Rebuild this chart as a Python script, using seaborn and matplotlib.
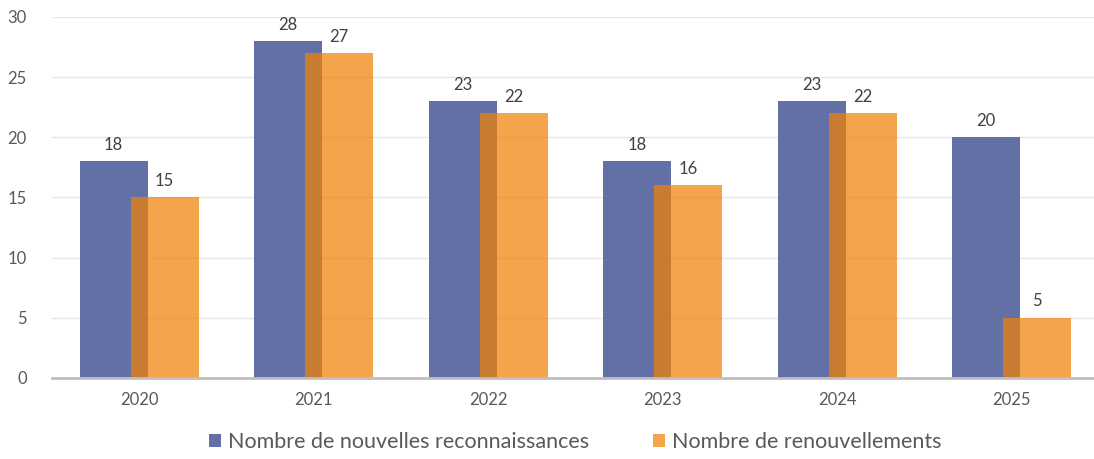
import numpy as np
import pandas as pd
import matplotlib
matplotlib.use("Agg")
import matplotlib.pyplot as plt
import seaborn as sns

years = ["2020", "2021", "2022", "2023", "2024", "2025"]
nouvelles = [18, 28, 23, 18, 23, 20]
renouvellements = [15, 27, 22, 16, 22, 5]
series_names = ["Nombre de nouvelles reconnaissances", "Nombre de renouvellements"]

sns.set_theme(style="white")
plt.rcParams["font.family"] = ["Lato", "DejaVu Sans"]

pos = np.arange(len(years))
df1 = pd.DataFrame({"x": pos - 0.146, "v": nouvelles})
df2 = pd.DataFrame({"x": pos + 0.146, "v": renouvellements})

fig = plt.figure(figsize=(10.94, 4.59), dpi=100)
ax = fig.add_axes([0.0474, 0.1765, 0.957, 0.7865])

ax.yaxis.grid(True, color="#e6e6e6", linewidth=1)
ax.set_axisbelow(True)

sns.barplot(data=df1, x="x", y="v", native_scale=True, width=0.39,
            color="#6270a5", saturation=1, linewidth=0, ax=ax, label=series_names[0])
sns.barplot(data=df2, x="x", y="v", native_scale=True, width=0.39,
            color="#f08206", alpha=0.72, saturation=1, linewidth=0, ax=ax,
            label=series_names[1])

for c in ax.containers:
    ax.bar_label(c, padding=6, fontsize=12, color="#404040")

ax.set_xlim(-0.5, 5.5)
ax.set_ylim(0, 30)
ax.set_yticks(range(0, 31, 5))
ax.set_xticks(pos)
ax.set_xticklabels(years)
ax.set_xlabel("")
ax.set_ylabel("")
ax.tick_params(axis="both", length=0, labelsize=12, labelcolor="#595959")
ax.tick_params(axis="x", pad=10)
ax.tick_params(axis="y", pad=18)

for s in ["top", "right", "left"]:
    ax.spines[s].set_visible(False)
ax.spines["bottom"].set_color("#bfbfbf")
ax.spines["bottom"].set_linewidth(2)

ax.legend(loc="upper center", bbox_to_anchor=(0.5, -0.115), ncol=2, frameon=False,
          fontsize=15.5, handlelength=0.55, handleheight=0.55, handletextpad=0.3,
          columnspacing=3, labelcolor="#595959", borderaxespad=0.2)

fig.savefig("out.png", dpi=100)
